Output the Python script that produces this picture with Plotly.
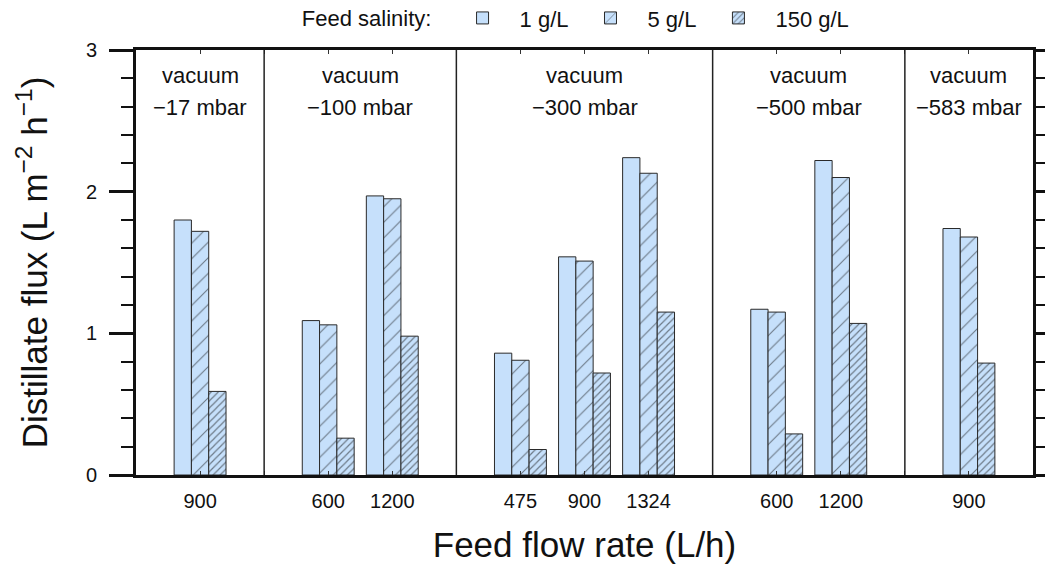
import plotly.graph_objects as go

# feed flow rate categories, grouped by vacuum pressure
vacuum = ["\u221217", "\u2212100", "\u2212300", "\u2212500", "\u2212583"]
group_sizes = [1, 2, 3, 2, 1]
flow_rate = ["900", "600", "1200", "475", "900", "1324", "600", "1200", "900"]

# distillate flux (L m-2 h-1) per feed salinity
flux_1 = [1.80, 1.09, 1.97, 0.86, 1.54, 2.24, 1.17, 2.22, 1.74]
flux_5 = [1.72, 1.06, 1.95, 0.81, 1.51, 2.13, 1.15, 2.10, 1.68]
flux_150 = [0.59, 0.26, 0.98, 0.18, 0.72, 1.15, 0.29, 1.07, 0.79]

# each group gets one empty unit of padding; positions on a linear axis
x_pos = []
bounds = [0]
for n in group_sizes:
    start = bounds[-1]
    x_pos += [start + i + 1 for i in range(n)]
    bounds.append(start + n + 1)

fill = "#c6e0fb"
edge = "#2a2a2a"
font = "Liberation Sans, Arial, sans-serif"

fig = go.Figure()
series = [("1 g/L", flux_1, "", 8, 0.1), ("5 g/L", flux_5, "/", 11, 0.1),
          ("150 g/L", flux_150, "/", 5, 0.24)]
for name, vals, shape, sz, sol in series:
    fig.add_trace(go.Bar(
        x=x_pos, y=vals, name=name,
        marker=dict(color=fill, line=dict(color=edge, width=1),
                    pattern=dict(shape=shape, size=sz, solidity=sol,
                                 fgcolor="#111111", bgcolor=fill)),
    ))

# group separators and vacuum labels
for b in bounds[1:-1]:
    fig.add_shape(type="line", x0=b, x1=b, y0=0, y1=3, xref="x", yref="y",
                  line=dict(color="#222222", width=1.5))
for i, v in enumerate(vacuum):
    cx = (bounds[i] + bounds[i + 1]) / 2
    fig.add_annotation(x=cx, y=1, xref="x", yref="paper", yanchor="middle",
                       text="vacuum", showarrow=False, yshift=-25,
                       font=dict(size=22, color="#111", family=font))
    fig.add_annotation(x=cx, y=1, xref="x", yref="paper", yanchor="middle",
                       text=v + " mbar", showarrow=False, yshift=-57,
                       font=dict(size=22, color="#111", family=font))

fig.update_layout(
    width=1045, height=581, autosize=False,
    margin=dict(l=136, r=12, t=50, b=106, autoexpand=False),
    plot_bgcolor="white", paper_bgcolor="white",
    barmode="group", bargap=0.19, bargroupgap=0,
    font=dict(family=font, color="#111", size=21),
    showlegend=True,
    legend=dict(orientation="h", x=0.492, xanchor="center", y=1.075, yanchor="middle",
                title=dict(text="Feed salinity: ", side="left", font=dict(size=22)),
                font=dict(size=22), itemwidth=64),
    xaxis=dict(range=[0, bounds[-1]], tickvals=x_pos, ticktext=flow_rate,
               automargin=False,
               showline=True, linewidth=3, linecolor="#111", mirror="ticks",
               ticks="inside", ticklen=4, tickcolor="#333", ticklabelstandoff=6,
               minor=dict(dtick=1, tick0=0, ticks="inside", ticklen=4, tickcolor="#333"),
               showgrid=False, zeroline=False, tickfont=dict(size=20),
               title=dict(text="Feed flow rate (L/h)", font=dict(size=35), standoff=22)),
    yaxis=dict(range=[0, 3], tickvals=[0, 1, 2, 3], automargin=False,
               showline=True, linewidth=3, linecolor="#111", mirror="ticks",
               ticks="outside", ticklen=24, tickwidth=2.5, tickcolor="#111",
               ticklabelstandoff=8,
               minor=dict(dtick=0.2, ticks="outside", ticklen=12, tickwidth=2, tickcolor="#111"),
               showgrid=False, zeroline=False, tickfont=dict(size=20),
               title=dict(text="Distillate flux (L m<sup>\u22122</sup> h<sup>\u22121</sup>)",
                          font=dict(size=35), standoff=28)),
)

fig.write_html("out.html", config={"displayModeBar": False},
               post_script="document.body.style.margin='0';")
